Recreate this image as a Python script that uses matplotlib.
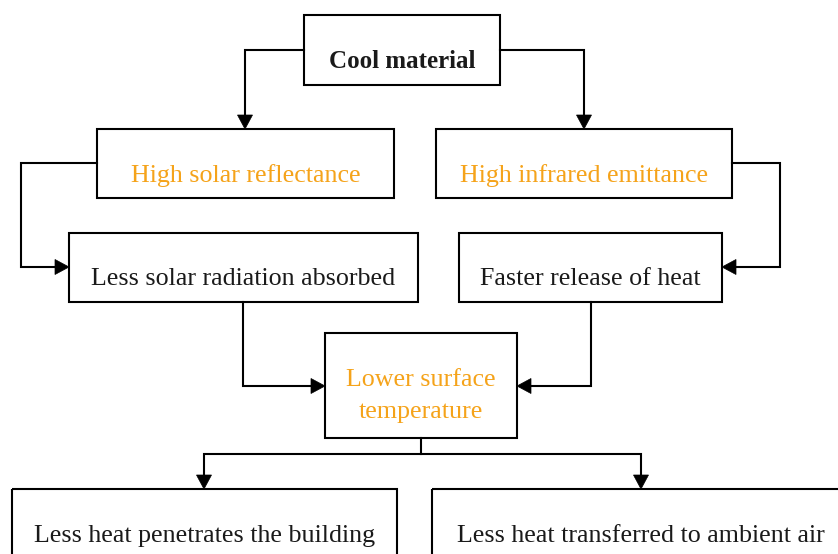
import matplotlib.pyplot as plt
from matplotlib.patches import Rectangle, Polygon

# flowchart content
labels = ["Cool material", "High solar reflectance", "High infrared emittance",
          "Less solar radiation absorbed", "Faster release of heat",
          "Lower surface\ntemperature",
          "Less heat penetrates the building", "Less heat transferred to ambient air"]
highlight = [False, True, True, False, False, True, False, False]
bold = [True, False, False, False, False, False, False, False]

# box layout in pixels (left, top, right, bottom), y downwards
boxes = [(304, 15, 500, 85), (97, 129, 394, 198), (436, 129, 732, 198),
         (69, 233, 418, 302), (459, 233, 722, 302), (325, 333, 517, 438),
         (12, 489, 397, 600), (432, 489, 850, 600)]
baselines = [68, 182, 182, 285, 285, 386, 542, 542]

# connectors: polyline points, last segment ends in an arrowhead
links = [
    [(304, 50), (245, 50), (245, 129)],
    [(500, 50), (584, 50), (584, 129)],
    [(97, 163), (21, 163), (21, 267), (69, 267)],
    [(732, 163), (780, 163), (780, 267), (722, 267)],
    [(243, 302), (243, 386), (325, 386)],
    [(591, 302), (591, 386), (517, 386)],
    [(421, 438), (421, 454), (204, 454), (204, 489)],
    [(421, 454), (641, 454), (641, 489)],
]

orange = '#f5a31a'
lw = 1.5
head_len, head_half = 14, 7.5
fs = 18.7
line_gap = 32

plt.rcParams['font.family'] = ['Liberation Serif', 'DejaVu Serif']

fig = plt.figure(figsize=(8.38, 5.54), dpi=100)
ax = fig.add_axes([0, 0, 1, 1])
ax.set_xlim(0, 838)
ax.set_ylim(554, 0)
ax.axis('off')

for (l, t, r, b), lab, hl, bd, yb in zip(boxes, labels, highlight, bold, baselines):
    ax.add_patch(Rectangle((l, t), r - l, b - t, fill=False, ec='black', lw=lw))
    cx = (l + r) / 2
    for k, line in enumerate(lab.split("\n")):
        ax.text(cx, yb + k * line_gap, line, ha='center', va='baseline',
                fontsize=18 if bd else fs,
                color=orange if hl else '#1a1a1a',
                fontweight='bold' if bd else 'normal')

for pts in links:
    xs = [p[0] for p in pts]
    ys = [p[1] for p in pts]
    (x0, y0), (x1, y1) = pts[-2], pts[-1]
    dx = (x1 > x0) - (x1 < x0)
    dy = (y1 > y0) - (y1 < y0)
    # shorten line to arrowhead base
    xs[-1] = x1 - dx * head_len
    ys[-1] = y1 - dy * head_len
    ax.plot(xs, ys, color='black', lw=lw, solid_joinstyle='miter')
    bx, by = x1 - dx * head_len, y1 - dy * head_len
    tri = [(x1, y1), (bx - dy * head_half, by - dx * head_half),
           (bx + dy * head_half, by + dx * head_half)]
    ax.add_patch(Polygon(tri, closed=True, fc='black', ec='black', lw=0.5))

fig.savefig('out.png', dpi=100)
